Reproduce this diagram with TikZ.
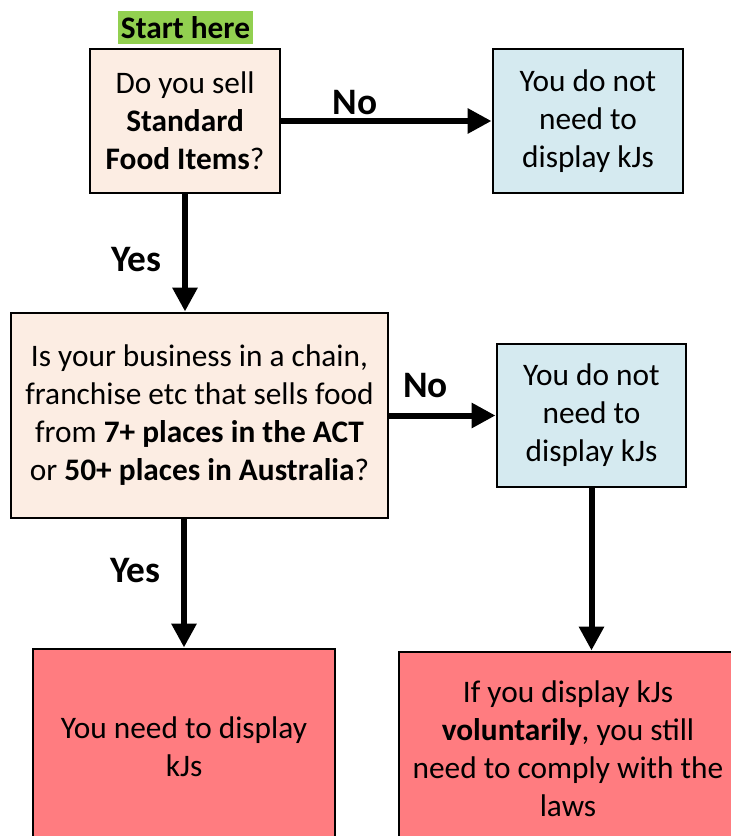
\documentclass[tikz,border=0pt]{standalone}
\usepackage{fontspec}
\setmainfont{Carlito}
\usetikzlibrary{arrows.meta}
\definecolor{peach}{RGB}{252,237,227}
\definecolor{paleblue}{RGB}{213,234,240}
\definecolor{salmon}{RGB}{255,124,128}
\definecolor{startgreen}{RGB}{146,208,80}
\tikzset{
  box/.style={draw=black,line width=2.2pt,rectangle,align=center,inner sep=0pt,
    font=\fontsize{23.5}{28.5}\selectfont},
  flow/.style={line width=4.5pt,-{Triangle[length=18pt,width=18pt]}},
  answer/.style={font=\fontsize{28}{30}\selectfont\bfseries}
}

\begin{document}
\begin{tikzpicture}[x=0.75pt,y=-0.75pt]
\useasboundingbox (0,0) rectangle (731,836);
\clip (0,0) rectangle (731,836);
\node[fill=startgreen,minimum width=101.25pt,minimum height=24.75pt,inner sep=0pt,
  font=\fontsize{23.5}{26}\selectfont\bfseries] (start) at (185.5,27.5) {Start here};
\node[box,fill=peach,minimum width=142.5pt,minimum height=108pt] (sell) at (185,121)
  {Do you sell\\ \textbf{Standard}\\ \textbf{Food Items}?};
\node[box,fill=paleblue,minimum width=142.5pt,minimum height=108pt] (nosell) at (588,121)
  {You do not\\ need to\\ display kJs};
\node[box,fill=peach,minimum width=282.75pt,minimum height=153.75pt] (chain) at (199.5,415.5)
  {Is your business in a chain,\\ franchise etc that sells food\\ from \textbf{7+ places in the ACT}\\ or \textbf{50+ places in Australia}?};
\node[box,fill=paleblue,minimum width=141.75pt,minimum height=107.25pt] (nochain) at (591.5,415.5)
  {You do not\\ need to\\ display kJs};
\node[box,fill=salmon,minimum width=226.5pt,minimum height=147pt] (must) at (184,747)
  {You need to display\\ kJs};
\node[box,fill=salmon,minimum width=253.5pt,minimum height=145.5pt] (volunteer) at (568,749)
  {If you display kJs\\ \textbf{voluntarily}, you still\\ need to comply with the\\ laws};
\draw[flow] (sell.east) -- node[answer,above,pos=0.35,yshift=-1pt] {No} (nosell.west);
\draw[flow] (sell.south) -- node[answer,left,pos=0.56,xshift=-12pt] {Yes} (sell.south |- chain.north);
\draw[flow] (chain.east) -- node[answer,above,pos=0.34,yshift=8pt] {No} (nochain.west);
\draw[flow] (must.north |- chain.south) -- node[answer,left,pos=0.4,xshift=-12pt] {Yes} (must.north);
\draw[flow] (nochain.south) -- (nochain.south |- volunteer.north);
\end{tikzpicture}
\end{document}
